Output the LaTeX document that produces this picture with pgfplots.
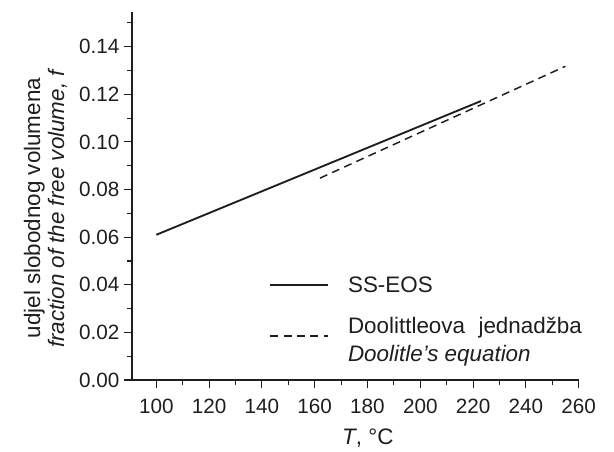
\documentclass[border=0pt]{standalone}
\usepackage{pgfplots}
\pgfplotsset{compat=1.18}
\usepackage{fontspec}
\setmainfont{Liberation Sans}
\definecolor{ink}{HTML}{1E1E1E}
\pgfplotsset{raisedline/.style={legend image code/.code={\draw[##1] (0pt,3pt) -- (43.5pt,3pt);}}}
\begin{document}
\begin{tikzpicture}
\begin{axis}[
  at={(0,0)}, anchor=south west,
  scale only axis, width=335pt, height=276pt,
  xmin=90.8, xmax=260, ymin=0, ymax=0.1546,
  axis x line*=bottom, axis y line*=left,
  axis line style={line width=1pt, -, ink},
  xtick={100,120,140,160,180,200,220,240,260},
  minor xtick={110,130,150,170,190,210,230,250},
  ytick={0,0.02,0.04,0.06,0.08,0.10,0.12,0.14},
  minor ytick={0.01,0.03,0.05,0.07,0.09,0.11,0.13,0.15},
  tick align=outside, major tick length=6pt, minor tick length=4pt,
  tick style={line width=0.8pt, ink},
  /pgf/number format/assume math mode=true,
  ticklabel style={font=\fontsize{15.5}{17}\selectfont, text=ink},
  yticklabel style={/pgf/number format/.cd, fixed, fixed zerofill, precision=2},
  xticklabel style={yshift=-4.5pt, /pgf/number format/.cd, fixed, precision=0},
  xlabel={\textit{T}, °C},
  xlabel style={at={(axis description cs:0.528,-0.157)}, anchor=center, font=\fontsize{16.8}{19}\selectfont, text=ink},
  ylabel={udjel slobodnog volumena\\\textit{fraction of the free volume, f}},
  ylabel style={at={(axis description cs:-0.1937,0.467)}, anchor=center, align=center, font=\fontsize{16.8}{18}\selectfont, text=ink},
  legend image code/.code={\draw[#1] (0pt,0pt) -- (43.5pt,0pt);},
  legend style={at={(axis cs:142.9,0.0435)}, anchor=north west, draw=none, fill=none,
    inner sep=0pt, outer sep=0pt, row sep=17pt, column sep=14pt,
    nodes={inner sep=0pt, text=ink},
    font=\fontsize{16.8}{21}\selectfont},
  legend cell align=left,
  legend style={cells={align=left}},
]
\addplot[ink, line width=1.4pt] coordinates {(100,0.0610) (223,0.1172)};
\addlegendentry{SS-EOS}
\addplot[ink, line width=1.1pt, dash pattern=on 6pt off 4pt, raisedline] coordinates {(162,0.0848) (255,0.1318)};
\addlegendentry{Doolittleova\hspace{0.6em}jednadžba\\\textit{Doolitle’s equation}}
\end{axis}
\path (-99pt,-45.75pt) rectangle (361.5pt,285pt);
\end{tikzpicture}
\end{document}
